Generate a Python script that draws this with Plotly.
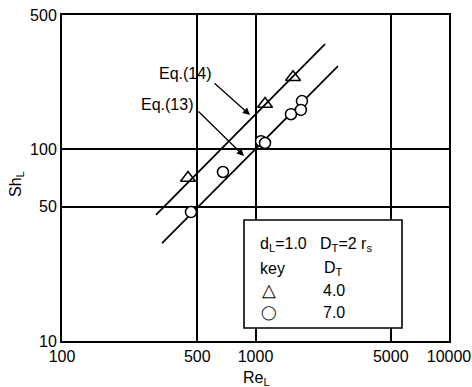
import plotly.graph_objects as go

# Data
tri_re = [448, 1120, 1563]          # D_T = 4.0
tri_sh = [70.7, 172, 237]
cir_re = [464, 679, 1068, 1120, 1525, 1738, 1716]   # D_T = 7.0
cir_sh = [47, 76, 110, 107.6, 152, 178, 160]

eq14_re = [306, 2286]
eq14_sh = [45.4, 353]
eq13_re = [329, 2667]
eq13_sh = [32.4, 271]

x_ticks = [100, 500, 1000, 5000, 10000]
x_ticktext = ["100", "500", "1000", "5000", "10000"]
y_ticks = [10, 50, 100, 500]
y_ticktext = ["10", "50", "100", "500"]

FONT = "Liberation Sans"
W, H = 472, 387
ML, MR, MT, MB = 62, 23, 15, 46
PW, PH = W - ML - MR, H - MT - MB


def px(xp):
    return (xp - ML) / PW


def py(yp):
    return (H - MB - yp) / PH


fig = go.Figure()
fig.add_trace(go.Scatter(x=eq14_re, y=eq14_sh, mode="lines",
                         line=dict(color="black", width=1.8), showlegend=False))
fig.add_trace(go.Scatter(x=eq13_re, y=eq13_sh, mode="lines",
                         line=dict(color="black", width=1.8), showlegend=False))
fig.add_trace(go.Scatter(x=tri_re, y=tri_sh, mode="markers",
                         marker=dict(symbol="triangle-up-open", size=13, color="black",
                                     line=dict(width=1.5)), showlegend=False))
fig.add_trace(go.Scatter(x=cir_re, y=cir_sh, mode="markers",
                         marker=dict(symbol="circle", size=11, color="white",
                                     line=dict(width=1.5, color="black")), showlegend=False))

axis_common = dict(type="log", showgrid=True, gridcolor="black", gridwidth=1.6,
                   showline=True, linecolor="black", linewidth=2, mirror=True,
                   ticks="", zeroline=False, automargin=False,
                   tickfont=dict(family=FONT, size=16, color="black"))
fig.update_xaxes(range=[2, 4], tickvals=x_ticks, ticktext=x_ticktext, **axis_common)
fig.update_yaxes(range=[1, 2.69897], tickvals=y_ticks, ticktext=y_ticktext, **axis_common)

# legend box
fig.add_shape(type="rect", xref="paper", yref="paper",
              x0=px(244), x1=px(402), y0=py(328), y1=py(220),
              fillcolor="white", line=dict(color="black", width=1.6), layer="above")

ann = []


def txt(x, y, t, size=16, xanchor="center"):
    ann.append(dict(x=px(x), y=py(y), xref="paper", yref="paper", text=t, showarrow=False,
                    xanchor=xanchor, yanchor="middle",
                    font=dict(family=FONT, size=size, color="black")))


txt(258, 245, "d<sub>L</sub>=1.0", xanchor="left")
txt(318, 245, "D<sub>T</sub>=2 r<sub>s</sub>", xanchor="left")
txt(258, 268, "key", xanchor="left")
txt(322, 268, "D<sub>T</sub>", xanchor="left")
txt(269, 290, "△", size=18)
txt(321, 290, "4.0", xanchor="left")
txt(269, 312, "◯", size=14)
txt(321, 312, "7.0", xanchor="left")

txt(185, 73, "Eq.(14)")
txt(167, 104, "Eq.(13)")
txt(256, 378, "Re<sub>L</sub>")
ann.append(dict(x=px(16), y=py(184), xref="paper", yref="paper", text="Sh<sub>L</sub>",
                showarrow=False, textangle=-90, xanchor="center", yanchor="middle",
                font=dict(family=FONT, size=16, color="black")))

# arrows
for tip, tail in [((250, 115), (213, 82)), ((244, 156), (197, 110))]:
    ann.append(dict(x=px(tip[0]), y=py(tip[1]), xref="paper", yref="paper", text="",
                    showarrow=True, axref="pixel", ayref="pixel",
                    ax=tail[0] - tip[0], ay=tail[1] - tip[1],
                    arrowhead=2, arrowsize=1.1, arrowwidth=1.3, arrowcolor="black"))

fig.update_layout(width=W, height=H, margin=dict(l=ML, r=MR, t=MT, b=MB),
                  plot_bgcolor="white", paper_bgcolor="white", annotations=ann,
                  font=dict(family=FONT, color="black"))

fig.write_html("out.html")
